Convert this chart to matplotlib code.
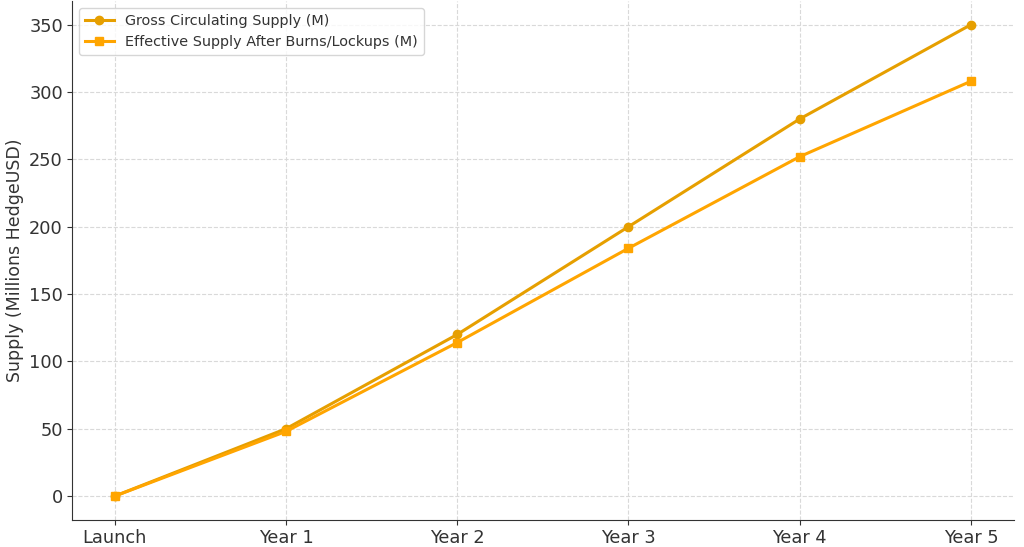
import numpy as np
import matplotlib
matplotlib.use('Agg')
import matplotlib.pyplot as plt

stages = ['Launch', 'Year 1', 'Year 2', 'Year 3', 'Year 4', 'Year 5']
gross_supply = [0, 50, 120, 200, 280, 350]
effective_supply = [0, 48, 114, 184, 252, 308]

plt.rcParams['font.family'] = ['DejaVu Sans']
plt.rcParams['text.color'] = '#333333'
plt.rcParams['axes.labelcolor'] = '#333333'
plt.rcParams['xtick.color'] = '#333333'
plt.rcParams['ytick.color'] = '#333333'

fig, ax = plt.subplots(figsize=(10.24, 5.47), dpi=100)
fig.subplots_adjust(left=0.0703, right=0.990, bottom=0.05, top=0.998)

x = np.arange(len(stages))
ax.plot(x, gross_supply, '-o', color='#E69F00', linewidth=2.2, markersize=6,
        label='Gross Circulating Supply (M)')
ax.plot(x, effective_supply, '-s', color='#FFA500', linewidth=2.2, markersize=6,
        label='Effective Supply After Burns/Lockups (M)')

ax.set_xticks(x)
ax.set_xticklabels(stages)
ax.set_ylabel('Supply (Millions HedgeUSD)', fontsize=12.5)
ax.tick_params(labelsize=12.8, pad=3)
ax.grid(True, linestyle='--', color='#d9d9d9', linewidth=0.8)
ax.set_axisbelow(True)
ax.spines['top'].set_visible(False)
ax.spines['right'].set_visible(False)
ax.spines['left'].set_color('#333333')
ax.spines['bottom'].set_color('#333333')
ax.legend(loc='upper left', fontsize=10.4)

plt.savefig('out.png', dpi=100)
